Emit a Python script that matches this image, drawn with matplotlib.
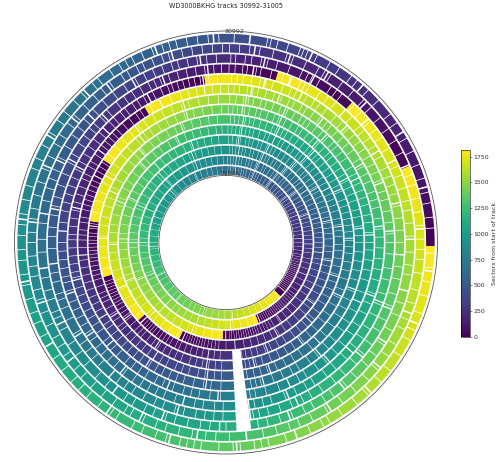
import matplotlib
matplotlib.use('Agg')
import numpy as np
from matplotlib import pyplot as plt

#track numbers, outermost ring first
tracks = list(range(30992, 31006))
sectors_per_track = 1815

#where each track wraps from last sector to sector 0, degrees clockwise from top
wrap_angles = [91, 67.4, 42, 17, 352.6, 329, 304, 279, 254.3, 228.5, 206, 182, 158, 134.7]

#thin white breaks in each track, degrees clockwise from top
thin_30992 = [2.3,6.7,11.6,12.6,14.5,17.5,21,22,23.2,26,30,33,37,39,43,47,52,55,60,64,68,72,76,79,83,86,93,97,101,105,110,115,118,123,128,132,137,141,146,150,152,156,160,163,168,170,172,176,178,182,187,189,191,193,197,200,204,207,212,214,218,222,225,228,232,236,240,243,247,250,254,258,261,265,268,272,275,278,282,286,291,294,298,302,306,309,313,316,320,322,326,329,331,333,336,339,342,344,346,349,352,355,358]
thin_30993 = [1,4,7,10,14,18,20,24,28,30,32,36,40,44,47,51,55,59,63,70,73,77,81,85,89,92,95,99,104,108,113,116,121,125,130,134,139,144,149,154,158,161,165,169,179,183,186,190,194,198,201,205,209,211,215,219,223,227,230,235,238,241,245,249,253,256,260,263,266,270,273,277,280,284,288,292,296,300,303,307,310,314,318,321,324,328,330,333,335,338,341,343,347,350,353,356,359]
thin_30994 = [1.5,3,6,8,11,13,16,20,24,26,27.5,30,34,36,38,43,46,50,53,56,60,64,66,69,73,77,80,84,88,93,97,100,105,109,113,118,123,127,131,136,140,145,148,152,155,159,163,167,170,180,185,188,192,196,199,203,206,210,213,217,220,224,229,233,237,242,246,248,252,255,259,262,267,271,276,279,283,287,290,293,297,301,305,308,311,315,319,323,327,331,334,337,340,343,345,348,351,354,357]
thin_30995 = [1,3,5.5,7,10,11.5,15,19,22,25,26.5,28,32,35,38,42,45,49,51,54,57,61,65,68,71,74,78,82,86,90,94,98,102,107,111,116,120,125,129,133,138,142,147,151,154,158,162,166,169,171,181,184,187,190,194,197,201,204,208,212,215,218,221,226,229,232,235,239,244,248,251,253,257,260,263,268,272,275,279,282,285,289,293,297,300,304,307,310,312,315,318,322,325,328,331,334,336,338,341,344,347,350,353,356,358.5]
thin_30996 = [2,4,6,9,12,14,16.5,20,23,25,29,32,34,37,41,44,47,50,53,56,59,62,65,68,72,75,79,83,87,90,94,99,103,108,112,116,121,125,129,134,139,143,148,151,155,159,164,167,170,181,184,188,191,195,198,202,205,208,211,214,218,222,225,228,231,234,237,240,243,246,249,253,256,258,261,264,267,270,274,277,281,284,287,290,293,296,299,302,305,308,311,313,316,318,321,323,326,328,330.5,334,337,339.5,341,343,345,347,349,351,354,357]
thin_30997 = [1,3,5,8,10,12,15,18,21,24,26,29,31,34,37,40,42,45,48,51,54,58,61,64,67,71,74,77,81,85,88,92,96,100,104,109,113,117,122,126,131,135,140,144,149,152,156,160,165,169,171,182,186,190,193,196,200,204,207,211,214,217,220,224,227,231,235,238,241,244,247,250,253,257,259,262,265,268,271,273,276,279,282,285,288,291,294,296,299,301,304,306,308,310,312,314,316,319,322,325,327,331,335,339,343,346,349,352,355,358]
thin_30998 = [1.5,4,7,9,11,14,16,19,22,25,28,31,33,35,38,41,44,47,49,52,55,59,62,66,69,72,75,79,82,86,90,93,97,101,105,110,114,118,123,127,132,136,141,145,150,153,157,161,166,168,170,182,186,189,193,197,200,203,206,209,212,216,219,222,225,228,231,234,236,239,242,245,248,251,254,257,260,263,265,268,271,273,275,278,280,283,285,287,289,291,293,295,297,299,301,303,307,311,315,319,323,326,330,334,338,342,345,349,353,357]
thin_30999 = [1,3,5,8,10,13,15,18,21,23,26,29,32,34,37,40,43,46,49,51,54,57,60,63,66,69,72,76,79,83,87,90,94,98,102,106,111,115,119,123,128,133,137,141,146,150,154,158,162,165,168,171,182,185,189,192,196,199,202,206,209,212,215,218,221,224,227,230,232,235,238,241,244,246,248,251,254,256,258,260,262,263.5,265,266.5,268,269.5,271,272.5,274,276,278,283,288,292,296,301,305,310,314,319,323,326,330,334,338,342,346,350,354,358]
thin_31000 = [2,4,6,9,11,13,16,19,22,24,27,29,32,35,38,41,43,46,48,51,54,57,60,63,66,70,73,76,79,82,85,89,92,95,99,103,107,112,116,120,125,129,134,138,142,147,151,155,159,163,166,169,171,182,185,188,191,194,197,201,204,207,210,213,216,219,222,224,226,229,232,234,236,238,240,241.5,243,244.5,246,247.5,249,250.5,252,258,263,268,273,278,282,287,291,296,300,305,310,314,318,323,327,332,336,340,344,348,352,356]
thin_31001 = [1,3,5,7,10,12,14,17,20,22,25,28,30,33,36,39,41,44,47,50,53,56,59,62,65,68,71,74,78,81,84,87,91,94,98,102,106,110,114,118,122,127,131,136,140,144,149,153,157,160,164,167,170,172,183,186,189,192,195,198,201,204,206,209,211,213,215,217,219,220.5,222,223.5,225,226.5,231,236,241,246,251,256,261,265,270,275,279,284,289,293,298,302,307,312,316,321,325,330,334,339,343,347,351,355,358]
thin_31002 = [1.5,3.5,6,8,11,13,15,18,20,23,26,28,31,34,37,40,42,45,48,50,53,56,58,61,64,67,70,73,76,79,82,85,88,92,95,99,103,107,111,115,119,124,128,132,137,142,146,150,154,158,162,166,170,175,180,184,186,188,190,192,193.5,195,196.5,198,199.5,201,202.5,204,208,213,218,223,228,233,238,243,248,252,256,261,266,270,275,280,285,290,294,299,304,308,313,318,322,327,331,336,340,344,348,352,356]
thin_31003 = [2,4,6,8,10,12,15,17,20,22,25,27,30,32,35,38,40,43,46,49,51,54,57,60,63,66,69,72,75,78,81,84,87,90,93,96,100,103,107,111,115,119,123,128,133,137,141,146,150,152,154,156,158,160,161.5,163,164.5,166,167.5,169,170.5,172,173.5,175,176.5,178,180,184,189,194,199,204,209,214,219,224,228,233,238,243,248,252,257,262,267,272,276,281,286,291,295,300,305,309,314,319,323,328,333,337,341,345,349,353,357]
thin_31004 = [1,3,5,7,9,11,14,16,18,21,23,26,28,31,34,36,39,42,44,47,50,53,55,58,61,64,67,70,73,76,79,82,85,88,91,94,97,101,104,108,112,116,120,124,127,129,131,133,135,137,138.5,140,141.5,143,144.5,146,147.5,149,150.5,152,153.5,155,156.5,160,165,170,175,180,185,190,195,200,205,210,215,219,224,229,234,239,244,249,254,259,263,268,273,278,283,288,293,298,303,308,313,317,322,327,332,337,342,346,350,354,358]
thin_31005 = [1.5,3.5,5.5,7.5,10,12,14,16,19,21,24,26,29,32,35,37,40,43,46,49,52,55,58,60,63,66,69,72,75,78,81,84,87,90,93,96,99,101,103,105,107,108.5,110,111.5,113,114.5,116,117.5,119,120.5,122,123.5,125,126.5,128,129.5,136,141,146,151,156,161,166,171,176,181,186,191,196,201,206,210,215,220,225,230,235,240,245,250,255,260,265,270,275,280,285,290,295,300,305,310,315,320,325,330,335,340,345,349,353,357]

#wider breaks
wide_30992 = [6.7,24.5,41,58,74.5,98,113,136,160,177,196,215,240,259,276.5,301,317,340,356.5]
wide_30993 = [8.5,19,31,45,67,86,111,129,148,174,188.5,206,233,252,276,293,309,323,344]
wide_30994 = [12,28,49,64,89,105,122,141,160,182,200,217,244,262,279,296,313,330,352]
wide_30995 = [9,21.5,42,59,77,94,112,130,156,172,196,221,238,263,281,298,316,339,354]
wide_30996 = [13.5,27,46,69,86,111,131,158,172,195,219,236,252,274,297,313,332,352]
wide_30997 = [9.5,20,38,60,84,110,139,156,183,202,229,256,283,306,335,352]
wide_30998 = [8,24,43,64,87,114,140,165,188,213,239,265,297,322,343]
wide_30999 = [7,24,42,62,84,110,137,161,188,212,237,277,299,321,343]
wide_31000 = [8,25,44,65,88,115,143,167,189,214,233,272,294,317,339]
wide_31001 = [8,25,43,62,82,107,133,159,189,226.8,247,269,291,313,335]
wide_31002 = [7,24,41,59,78,100,125,151,175,204.2,226,249,272,295,318,341]
wide_31003 = [8,23,39,57,75,96,119,145,180.2,201,224,247,270,293,316,339]
wide_31004 = [7,22,37,54,71,91,112,156.8,177,200,224,247,270,293,316,339]
wide_31005 = [7.5,22,36,53,69,87,129.8,151,175,198,221,244,267,290,313,336]

thin_gaps = [thin_30992, thin_30993, thin_30994, thin_30995, thin_30996, thin_30997, thin_30998,
             thin_30999, thin_31000, thin_31001, thin_31002, thin_31003, thin_31004, thin_31005]
wide_gaps = [wide_30992, wide_30993, wide_30994, wide_30995, wide_30996, wide_30997, wide_30998,
             wide_30999, wide_31000, wide_31001, wide_31002, wide_31003, wide_31004, wide_31005]

#empty stretch near the bottom, degrees clockwise from top
blank_tracks = [30994, 30995, 30996, 30997, 30998, 30999, 31000, 31001]
blank_start = 172.3
blank_end = 176.8

cbar_ticks = [0, 250, 500, 750, 1000, 1250, 1500, 1750]

fig = plt.figure(figsize=(5, 4.62), dpi=100)
ax = fig.add_axes([14.5 / 500, 8 / 462, 423 / 500, 423 / 462], projection='polar')
ax.set_theta_zero_location('N')
ax.set_theta_direction(-1)

cmap = plt.get_cmap('viridis')
norm = plt.Normalize(0, sectors_per_track)

for track, wrap, thin, wide in zip(tracks, wrap_angles, thin_gaps, wide_gaps):
    #half widths of the breaks, the wrap itself has none
    half = {a: 0.11 for a in thin}
    half.update({a: 0.22 for a in wide})
    half[wrap] = 0
    edges = sorted(half)
    for i, start in enumerate(edges):
        left = start + half[start]
        if i + 1 < len(edges):
            right = edges[i + 1] - half[edges[i + 1]]
        else:
            right = edges[0] + 360 - half[edges[0]]
        if right <= left:
            continue
        mid = (left + right) / 2
        sector = ((wrap - mid) % 360) / 360 * sectors_per_track
        ax.bar(np.radians(mid), 0.84, width=np.radians(right - left), bottom=track - 0.42,
               color=cmap(norm(sector)), linewidth=0, align='center')

#blank out the missing stretch
for track in blank_tracks:
    ax.bar(np.radians((blank_start + blank_end) / 2), 1.0, width=np.radians(blank_end - blank_start),
           bottom=track - 0.5, color='white', linewidth=0, align='center')

ax.set_rorigin(31012.1)
ax.set_ylim(31005.5, 30991.3)
ax.grid(False)
ax.set_xticks([])
ax.set_yticks([])
for spine in ax.spines.values():
    spine.set_linewidth(0.6)
    spine.set_color('#555555')

ax.text(np.radians(2.3), 30991.3, '30992', fontsize=4.5, color='#333333', ha='center', va='center')
ax.text(np.radians(3.2), 31005.3, '31005', fontsize=4.5, color='#333333', ha='center', va='center')

fig.text(225.5 / 500, 1 - 5.5 / 462, 'WD3000BKHG tracks 30992-31005', fontsize=4.7, color='#222222',
         ha='center', va='center')

cax = fig.add_axes([460.5 / 500, (462 - 336.7) / 462, 9 / 500, 186.7 / 462])
cbar = fig.colorbar(plt.cm.ScalarMappable(norm=norm, cmap=cmap), cax=cax, ticks=cbar_ticks)
cbar.ax.tick_params(labelsize=4.5, length=1.5, width=0.4, pad=1.5, colors='#333333')
cbar.outline.set_linewidth(0.4)
cbar.set_label('Sectors from start of track', fontsize=4.5, color='#333333', labelpad=2)

fig.savefig('out.png', dpi=100)
